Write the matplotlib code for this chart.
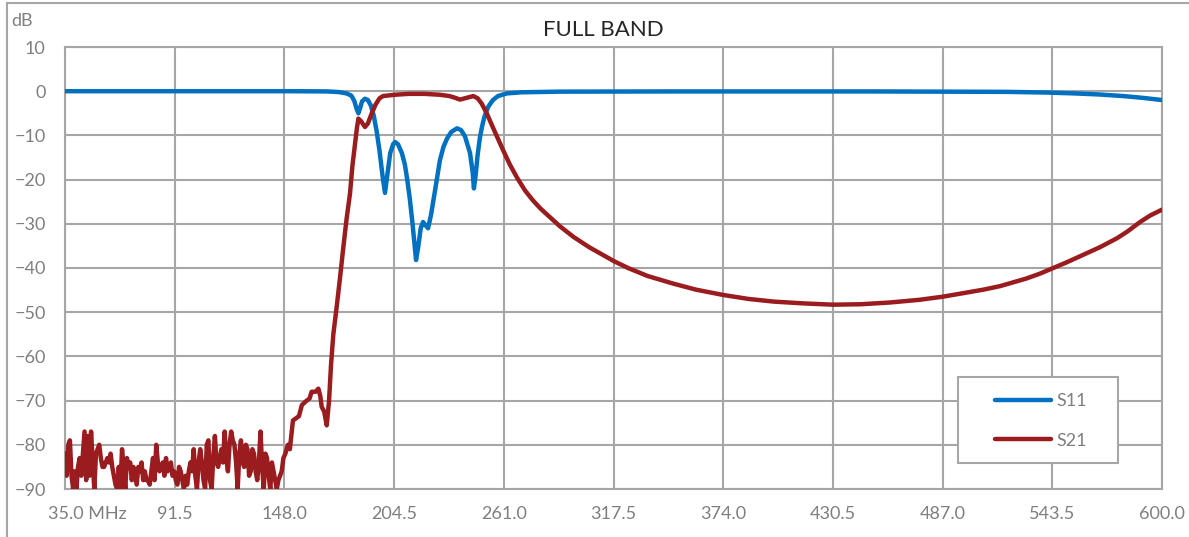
import numpy as np
import matplotlib
matplotlib.use("Agg")
import matplotlib.pyplot as plt
from matplotlib.patches import Rectangle
from matplotlib.transforms import ScaledTranslation

plt.rcParams['font.family'] = ['Lato', 'DejaVu Sans']

# S11 (return loss), MHz / dB
s11_freq = [35, 100, 150, 170, 176, 180, 182.5, 184, 185.2, 186.1, 187, 188, 189.5, 191,
            192.5, 194, 195.5, 197, 198.5, 199.8, 201, 202.5, 204, 205, 206.5, 208.5, 210,
            211.1, 212.5, 214, 215.8, 217, 218.2, 219.4, 220.6, 222, 223.5, 225, 226.5,
            228.1, 230, 232, 234, 236.9, 239, 241, 243.6, 245, 245.6, 246.5, 247.5, 248.7,
            249.8, 251, 253, 255.4, 258, 262.6, 270, 290, 350, 450, 520, 540, 555, 568,
            580, 590, 600]
s11_db = [0, 0, 0, -0.05, -0.2, -0.5, -1.0, -2.2, -4.0, -5.0, -3.8, -2.3, -1.7, -2.0,
          -3.2, -5.5, -9.0, -13.5, -19.0, -23.0, -19.0, -14.0, -12.0, -11.5, -12.0, -14.0,
          -16.5, -19.5, -24.0, -30.0, -38.2, -35.0, -31.0, -29.6, -30.3, -31.0, -28.0,
          -24.0, -20.0, -15.6, -12.5, -10.5, -9.2, -8.4, -8.8, -10.2, -14.0, -18.5, -22.0,
          -19.0, -14.5, -10.5, -8.0, -5.8, -3.5, -2.0, -1.1, -0.5, -0.25, -0.1, -0.05,
          -0.05, -0.15, -0.3, -0.5, -0.75, -1.1, -1.5, -2.0]

# S21 noise floor, read point by point (35 .. 146.6 MHz)
s21_noise_db = [-82, -87, -80, -79, -87, -90, -86, -90, -85, -83, -87, -82, -77, -88, -78,
                -87, -77, -84, -90, -82, -81, -80, -83, -85, -85, -84, -83, -84, -82, -85,
                -87, -89, -90, -85, -90, -81, -85, -90, -83, -85, -84, -88, -85, -87, -89,
                -85, -86, -84, -88, -86, -88, -88, -89, -86, -83, -88, -80, -84, -86, -85,
                -84, -87, -83, -86, -85, -84, -87, -86, -88, -89, -85, -86, -88, -90, -87,
                -89, -86, -84, -86, -81, -87, -90, -84, -81, -84, -88, -90, -80, -79, -88,
                -90, -83, -78, -84, -85, -83, -81, -84, -77, -83, -86, -80, -77, -79, -80,
                -84, -90, -82, -79, -84, -85, -80, -81, -87, -86, -81, -82, -86, -88, -84,
                -77, -85, -90, -82, -83, -87, -90, -84, -86, -88, -90, -88, -87, -86]
s21_noise_freq = np.linspace(35, 146.6, len(s21_noise_db))

# S21 above the noise floor
s21_freq_hi = [147.5, 148.5, 149.8, 150.8, 151.8, 152.4, 154, 155.5, 157, 159.5, 161, 162,
               164, 165.5, 166.5, 167.2, 168.5, 169.8, 171, 172, 173.2, 175, 176.6, 178.3,
               180, 181.8, 183, 184.4, 185.3, 186.1, 187.5, 189.5, 191, 193, 195, 197,
               198.8, 205, 212, 220, 228, 233, 236, 238.4, 241, 245.3, 247.5, 249.6,
               252.2, 256, 260.7, 264, 268, 272, 276, 280, 285, 290, 297, 305, 317.5, 325,
               335, 348, 360, 374, 387, 400, 415, 430.5, 445, 460, 475, 487, 500, 508,
               516.6, 523, 530, 537, 543.5, 551, 559.5, 568, 576.7, 582, 588.7, 594, 600]
s21_db_hi = [-83, -82, -80, -81, -77, -74.5, -74, -73.5, -71, -70, -69.5, -68, -68, -67.3,
             -69, -71.4, -72.5, -75.6, -70, -62, -55, -48.5, -42.4, -35.5, -29, -23.1, -17,
             -11.8, -8.5, -6.2, -6.8, -8.1, -7.3, -5.0, -3.0, -1.6, -1.1, -0.8, -0.6, -0.6,
             -0.8, -1.1, -1.5, -1.9, -1.6, -1.1, -1.6, -2.8, -5.0, -8.8, -13.4, -16.5,
             -19.7, -22.5, -24.7, -26.6, -28.6, -30.6, -33.0, -35.3, -38.4, -40.0, -41.8,
             -43.5, -44.9, -46.1, -47.0, -47.6, -48.0, -48.3, -48.2, -47.8, -47.2, -46.5,
             -45.5, -44.9, -44.1, -43.3, -42.4, -41.3, -40.1, -38.7, -37.0, -35.3, -33.3,
             -31.8, -29.6, -28.1, -26.8]

s21_freq = list(s21_noise_freq) + s21_freq_hi
s21_db = list(s21_noise_db) + s21_db_hi

xticks = [35.0, 91.5, 148.0, 204.5, 261.0, 317.5, 374.0, 430.5, 487.0, 543.5, 600.0]
xtick_labels = ["35.0 MHz", "91.5", "148.0", "204.5", "261.0", "317.5", "374.0",
                "430.5", "487.0", "543.5", "600.0"]
yticks = [-90, -80, -70, -60, -50, -40, -30, -20, -10, 0, 10]

grid_col = '#A6A6A6'
text_col = '#7F7F7F'

fig = plt.figure(figsize=(11.89, 5.37), dpi=100)
ax = fig.add_axes([65 / 1189, 48 / 537, 1097 / 1189, 442 / 537])

ax.plot(s11_freq, s11_db, color='#0070C0', lw=3.2, label='S11', zorder=3, solid_capstyle='round')
ax.plot(s21_freq, s21_db, color='#9B1C1F', lw=3.2, label='S21', zorder=3, solid_capstyle='round')

ax.set_xlim(35, 600)
ax.set_ylim(-90, 10)
ax.set_xticks(xticks)
ax.set_xticklabels(xtick_labels)
ax.set_yticks(yticks)
ax.grid(True, color=grid_col, lw=1.5, zorder=0)
ax.set_axisbelow(True)
for sp in ax.spines.values():
    sp.set_color(grid_col)
    sp.set_linewidth(1.5)
ax.tick_params(length=0, labelsize=13, labelcolor=text_col)
ax.tick_params(axis='y', pad=14)
ax.tick_params(axis='x', pad=12)

# first label: keep "35.0" on the gridline, "MHz" trailing
lab = ax.get_xticklabels()[0]
lab.set_ha('left')
lab.set_transform(lab.get_transform() + ScaledTranslation(-17 / 100, 0, fig.dpi_scale_trans))

ax.set_title("FULL BAND", fontsize=16, color='#262626', pad=8, x=0.4904)
fig.text(22 / 1189, 1 - 21 / 537, "dB", fontsize=13, color=text_col, ha='center', va='center')

# legend box
ax.add_patch(Rectangle((0.814, 0.0588), 0.1459, 0.1946, transform=ax.transAxes,
                       facecolor='white', edgecolor=grid_col, lw=1.5, zorder=4))
ax.legend(loc='center left', bbox_to_anchor=(0.8396, 0.1538), frameon=False,
          borderpad=0, handlelength=3.1, handletextpad=0.3, labelspacing=1.3,
          fontsize=13, labelcolor=text_col).set_zorder(5)

# outer chart border
fig.patches.append(Rectangle((7 / 1189, -0.05), 1.1, 1 - 3 / 537 + 0.05,
                             transform=fig.transFigure, fill=False,
                             edgecolor=grid_col, lw=1.5))

fig.savefig("out.png", dpi=100)
